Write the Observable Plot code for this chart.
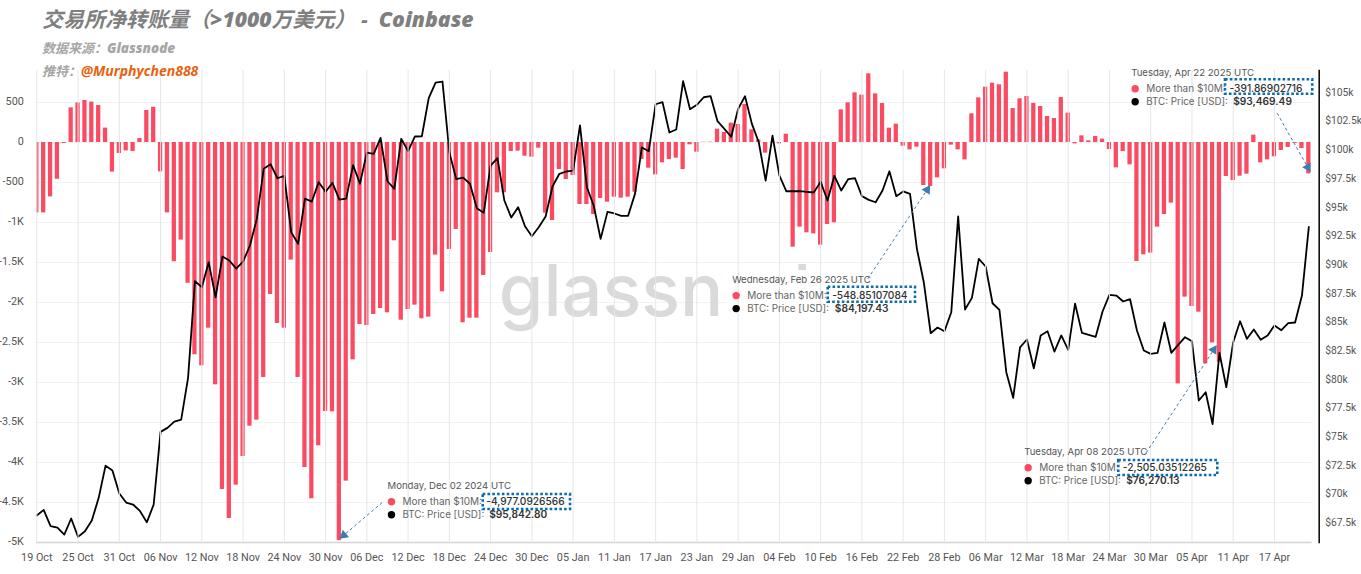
<!DOCTYPE html>
<html><head><meta charset="utf-8">
<script src="https://cdn.jsdelivr.net/npm/d3@7"></script>
<script src="https://cdn.jsdelivr.net/npm/@observablehq/plot@0.6"></script>
<style>
html,body{margin:0;padding:0;background:#fff;overflow:hidden}
#head{position:absolute;left:42px;top:0;z-index:2;font-family:"Open Sans","Noto Sans CJK SC",sans-serif;font-style:italic;font-weight:700;white-space:pre}
#head div{position:absolute;left:0;white-space:pre}
#t1{top:4px;font-size:21px;line-height:30px;color:#7f7f7f}
#t1 b{font-size:21.2px}
#t2{top:38px;font-size:13px;line-height:20px;color:#a6a6a6}
#t2 b{font-size:13.5px}
#t3{top:61px;font-size:13px;line-height:20px;color:#a6a6a6}
#t3 span{color:#e8620f;font-size:14px}
#chart{position:absolute;left:0;top:60px}
</style></head><body>
<div id="head">
<div id="t1">交易所净转账量（<b>&gt;1000</b>万美元） -  <b>Coinbase</b></div>
<div id="t2">数据来源：<b>Glassnode</b></div>
<div id="t3">推特：<span>@Murphychen888</span></div>
</div>
<div id="chart"></div>
<script>
const startDay = Date.UTC(2024, 9, 19);
const flow = [-880,-880,-680,-460,-12,433,495,525,505,462,180,-370,-137,-105,-112,50,400,440,-367,-880,
-1490,-1220,-1760,-2654,-2792,-2321,-3029,-4337,-4700,-4283,-3925,-3546,-3471,-2937,-1900,-2262,-2321,-1470,-2937,-4062,
-4454,-3791,-3362,-3367,-4977,-4233,-2717,-2275,-2288,-2150,-2075,-2129,-1229,-2221,-2087,-2033,-2204,-2183,-1408,-1867,
-1337,-1087,-2254,-2196,-2196,-1662,-1375,-629,-629,-113,-108,-171,-183,-71,-883,-975,-338,-463,-413,-775,
-775,-900,-700,-746,-683,-696,-683,-621,-213,-321,-404,-254,-213,-196,-338,-29,-121,3,4,167,
125,242,225,475,158,33,-133,-2,-17,104,-1308,-1058,-1129,-1142,-1283,-1025,-1004,408,496,621,
592,858,608,488,179,229,-46,-92,-58,-537,-549,-442,-329,-33,-92,-217,358,558,692,742,
721,879,425,546,575,488,450,325,300,562,367,-17,83,21,75,42,-88,-317,-113,-279,
-1487,-1404,-1383,-1058,-900,-758,-3017,-1933,-2050,-2121,-2767,-2505,-2746,-425,-475,-421,-396,92,-254,-217,
-179,-100,-62,-12,-75,-392];
const priceK = [68.31,68.80,67.38,67.26,66.65,68.05,66.45,66.94,67.87,69.85,72.66,72.23,70.23,69.44,69.27,68.71,67.72,69.27,75.60,75.95,
76.50,76.67,80.31,88.73,88.21,90.38,87.33,90.88,90.53,89.83,90.44,91.84,94.17,98.52,98.92,97.70,97.91,93.00,91.99,95.93,
95.67,97.36,96.52,97.30,95.84,95.93,98.84,97.22,99.94,99.83,101.22,97.44,96.78,101.14,100.06,101.34,101.36,104.68,106.04,106.13,
99.97,97.62,97.76,97.22,95.09,94.69,98.81,99.45,95.76,94.28,95.18,93.52,92.65,93.43,94.37,96.98,98.09,98.29,98.37,102.30,
96.92,95.30,92.42,94.77,94.63,94.43,94.43,96.34,100.38,100.06,104.15,104.33,101.69,101.95,106.16,103.72,104.10,104.76,104.85,102.67,
102.01,101.31,103.75,104.85,102.44,100.84,97.50,101.42,97.94,96.57,96.57,96.57,96.52,96.46,97.39,95.76,97.91,96.63,97.62,97.70,
96.14,95.82,95.61,96.63,98.31,96.14,96.55,96.34,91.55,88.64,84.20,84.69,84.37,86.03,94.37,86.26,87.28,90.68,90.01,86.81,
86.23,80.80,78.57,82.97,83.65,81.14,84.00,84.37,82.60,84.00,82.75,86.78,84.23,84.06,83.88,86.09,87.54,87.48,86.96,87.16,
84.43,82.69,82.40,82.49,85.13,82.49,83.18,83.85,83.50,78.33,79.05,76.27,82.49,79.49,83.41,85.24,83.71,84.52,83.62,84.00,
84.87,84.46,85.07,85.13,87.48,93.47];
const flowTicks = [500,0,-500,-1000,-1500,-2000,-2500,-3000,-3500,-4000,-4500,-5000];
const flowLabels = ["500","0","-500","-1K","-1.5K","-2K","-2.5K","-3K","-3.5K","-4K","-4.5K","-5K"];
const priceTicks = [67.5,70,72.5,75,77.5,80,82.5,85,87.5,90,92.5,95,97.5,100,102.5,105];
const flowDomain = [-5000, 900];
const priceDomain = [65.96, 107.09];
const tipTitles = ["Monday, Dec 02 2024 UTC","Wednesday, Feb 26 2025 UTC","Tuesday, Apr 22 2025 UTC","Tuesday, Apr 08 2025 UTC"];
const tipFlows = ["-4,977.0926566","-548.85107084","-391.86902716","-2,505.03512265"];
const tipPrices = ["$95,842.80","$84,197.43","$93,469.49","$76,270.13"];
const tipDay = [51.0,101.13,159.16,143.6];
const tipValue = [-4296,-1719,866,-3871];
const tipFlowDx = [98.7,100,98.3,98.6];
const tipPriceDx = [101.7,102.6,102,102];
const boxDays = [[64.92,77.62],[115.10,127.79],[172.88,185.57],[157.36,171.76]];
const boxValues = [[-4400,-4587],[-1809,-1996],[784,604],[-3975,-4163]];
const arrowDays = [[50.23,44.65],[120.85,129.49],[180.39,184.84],[161.34,171.17]];
const arrowValues = [[-4500,-4909],[-1704,-591],[366,-309],[-3879,-2591]];
const arrowAngles = [-130,33.7,150.5,33.3];

const red = "#f94c63", ui = "Inter, sans-serif", axisFont = "Roboto, sans-serif";
const day = n => new Date(startDay + n * 864e5);
const dates = flow.map((_, i) => day(i));
const rows = flow.map((v, i) => ({date: dates[i], flow: v, price: priceK[i]}));
const priceToFlow = d3.scaleLinear().domain(priceDomain).range(flowDomain);
const xTicks = d3.range(0, 186, 6).map(day);

const tipMarks = [];
tipTitles.forEach((t, i) => {
  const base = {x: () => day(tipDay[i]), y: () => tipValue[i], frameAnchor: "middle", textAnchor: "start", fontFamily: ui};
  const d = [0];
  tipMarks.push(
    Plot.rect(d, {x1: () => day(boxDays[i][0]), x2: () => day(boxDays[i][1]), y1: () => boxValues[i][0], y2: () => boxValues[i][1], fill: "none", stroke: "#0a6cb0", strokeWidth: 2.6, strokeDasharray: "2.6,2.2"}),
    Plot.text(d, {...base, text: () => t, fontSize: 9.6, fill: "#555"}),
    Plot.dot(d, {x: base.x, y: base.y, dx: 4, dy: 15.6, r: 3.7, fill: red}),
    Plot.dot(d, {x: base.x, y: base.y, dx: 4, dy: 28.6, r: 3.7, fill: "#000"}),
    Plot.text(d, {...base, dx: 15, dy: 15.6, text: () => "More than $10M:", fontSize: 10, fill: "#666"}),
    Plot.text(d, {...base, dx: 15, dy: 28.6, text: () => "BTC: Price [USD]:", fontSize: 9.8, fill: "#666"}),
    Plot.text(d, {...base, dx: tipFlowDx[i], dy: 15.6, text: () => tipFlows[i], fontSize: 10.2, fontWeight: 500, fill: "#333"}),
    Plot.text(d, {...base, dx: tipPriceDx[i], dy: 28.6, text: () => tipPrices[i], fontSize: 10.2, fontWeight: 600, fill: "#333"}),
    Plot.link(d, {x1: () => day(arrowDays[i][0]), x2: () => day(arrowDays[i][1]), y1: () => arrowValues[i][0], y2: () => arrowValues[i][1], stroke: "#3d7db5", strokeWidth: 1, strokeDasharray: "3,2.6"}),
    Plot.dot(d, {x: () => day(arrowDays[i][1]), y: () => arrowValues[i][1], symbol: "triangle", r: 3.6, rotate: arrowAngles[i], fill: "#3d7db5"})
  );
});

const chart = Plot.plot({
  width: 1361, height: 514,
  marginLeft: 36.3, marginRight: 49.3, marginTop: 10, marginBottom: 32,
  style: {background: "transparent", fontFamily: axisFont},
  x: {type: "utc", domain: [day(0), day(185.49)]},
  y: {domain: flowDomain},
  marks: [
    Plot.ruleY(flowTicks.slice(0, -1), {stroke: "#f2f2f2", strokeWidth: 1}),
    Plot.text([0], {x: () => day(67.2), y: () => -1875, text: () => "glassnode", frameAnchor: "middle", textAnchor: "start", fontFamily: "Inter", fontWeight: 500, fontSize: 72, fill: "#dadada"}),
    Plot.rect([0], {x1: () => day(100.3), x2: () => day(129.2), y1: () => -1600, y2: () => -2260, fill: "#fff"}),
    Plot.rect(rows, {x1: d => new Date(+d.date - 0.31 * 864e5), x2: d => new Date(+d.date + 0.31 * 864e5), y1: () => 0, y2: "flow", fill: red, clip: "frame"}),
    Plot.line(rows, {x: "date", y: d => priceToFlow(d.price), stroke: "#000", strokeWidth: 1.8}),
    Plot.ruleY([-5000], {stroke: "#d4d4d4", strokeWidth: 1.4}),
    Plot.axisY({ticks: flowTicks, tickFormat: v => flowLabels[flowTicks.indexOf(v)], tickSize: 0, tickPadding: 13, dy: -1.3, fontSize: 10.8, fontFamily: axisFont, color: "#555", label: null}),
    Plot.axisX({ticks: xTicks, tickFormat: d3.utcFormat("%d %b"), tickSize: 0, tickPadding: 10.5, fontSize: 10.8, fontFamily: axisFont, color: "#555", label: null}),
    Plot.tickX(xTicks, {x: d => d, y1: () => -5000, y2: () => -5000, dy: 2, insetTop: -2, stroke: "#e6e6e6"}),
    Plot.frame({anchor: "right", dx: 7, stroke: "#111", strokeWidth: 1.6}),
    Plot.axisY(priceTicks.map(t => priceToFlow(t)), {anchor: "right", dx: 7, dy: -2, tickSize: 0, tickPadding: 6, fontSize: 10.3, fontFamily: axisFont, color: "#555", label: null,
      tickFormat: v => "$" + d3.format("~g")(priceToFlow.invert(v).toFixed(1)) + "k"}),
    ...tipMarks
  ]
});
document.getElementById("chart").append(chart);
</script>
</body></html>
